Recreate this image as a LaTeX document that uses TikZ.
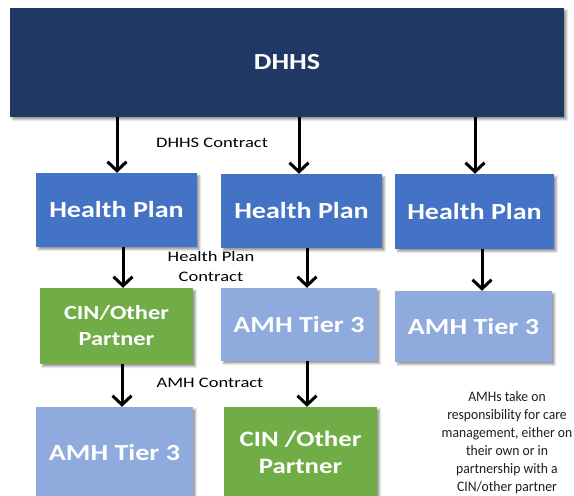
\documentclass[tikz,border=0pt]{standalone}
\usepackage{fontspec}
\setmainfont{Carlito}
\newfontfamily\boxfont[FakeStretch=1.22]{Carlito}
\newfontfamily\labfont[FakeStretch=1.28]{Carlito}
\newfontfamily\parafont[FakeStretch=0.94]{Carlito}
\usetikzlibrary{arrows.meta,shadows.blur}
\definecolor{navy}{RGB}{32,56,100}
\definecolor{hpblue}{RGB}{68,114,196}
\definecolor{lightblue}{RGB}{143,170,220}
\definecolor{cingreen}{RGB}{112,173,71}
\definecolor{paratext}{RGB}{30,30,30}
\tikzset{
  box/.style={rectangle, inner sep=0pt, text=white, align=center,
    font=\boxfont\bfseries\fontsize{23}{26}\selectfont,
    blur shadow={shadow xshift=2.5pt, shadow yshift=-2.5pt, shadow blur radius=2pt, shadow opacity=40}},
  topbox/.style={box, fill=navy},
  hpbox/.style={box, fill=hpblue},
  amhbox/.style={box, fill=lightblue},
  cinbox/.style={box, fill=cingreen},
  arr/.style={line width=3pt, -{Straight Barb[length=9pt,width=19pt]}},
  lab/.style={inner sep=0pt, align=center, font=\labfont\fontsize{14.5}{20}\selectfont},
}
\begin{document}
\begin{tikzpicture}[x=1pt,y=-1pt]
\useasboundingbox (0,0) rectangle (574,496);
\clip (0,0) rectangle (574,496);
% boxes
\node[topbox, minimum width=554, minimum height=109] (dhhs) at (287,62.5) {DHHS};
\node[hpbox, minimum width=161, minimum height=74] (hp1) at (116.5,210) {Health Plan};
\node[hpbox, minimum width=161, minimum height=74] (hp2) at (301.5,211) {Health Plan};
\node[hpbox, minimum width=159, minimum height=75] (hp3) at (474.5,211.5) {Health Plan};
\node[cinbox, minimum width=153, minimum height=76, font=\boxfont\bfseries\fontsize{20}{26}\selectfont] (cin1) at (116.5,326) {CIN/Other\\Partner};
\node[amhbox, minimum width=156, minimum height=73] (amh2) at (299,324.5) {AMH Tier 3};
\node[amhbox, minimum width=157, minimum height=71] (amh3) at (473.5,326.5) {AMH Tier 3};
\node[amhbox, minimum width=157, minimum height=91] (amhb) at (114.5,452.5) {AMH Tier 3};
\node[cinbox, minimum width=153, minimum height=91, font=\boxfont\bfseries\fontsize{22}{27}\selectfont] (cinb) at (300.5,452.5) {CIN /Other\\Partner};
% arrows
\draw[arr] (dhhs.south -| 117,0) -- (hp1.north -| 117,0);
\draw[arr] (dhhs.south -| 299,0) -- (hp2.north -| 299,0);
\draw[arr] (dhhs.south -| 475,0) -- (hp3.north -| 475,0);
\draw[arr] (hp1.south -| 123,0) -- (cin1.north -| 123,0);
\draw[arr] (hp2.south -| 307,0) -- (amh2.north -| 307,0);
\draw[arr] (hp3.south -| 482,0) -- (amh3.north -| 482,0);
\draw[arr] (cin1.south -| 122,0) -- (amhb.north -| 122,0);
\draw[arr] (amh2.south -| 307,0) -- (cinb.north -| 307,0);
% labels
\node[lab, anchor=base west] (l1) at (156,147) {DHHS Contract};
\node[lab] (l2) at (211,267) {Health Plan\\Contract};
\node[lab, anchor=base] (l3) at (210,387) {AMH Contract};
\node[inner sep=0pt, align=center, text=paratext, font=\parafont\fontsize{14.5}{18}\selectfont] (note) at (507,443)
  {AMHs take on\\responsibility for care\\management, either on\\their own or in\\partnership with a\\CIN/other partner};
\end{tikzpicture}
\end{document}
